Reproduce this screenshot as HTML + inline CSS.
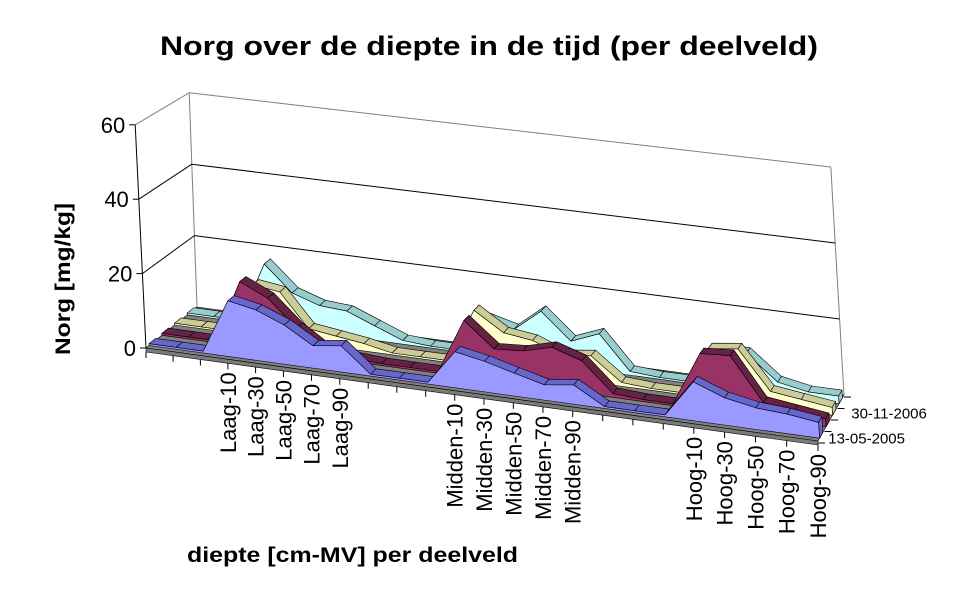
<!DOCTYPE html>
<html><head><meta charset="utf-8"><style>
html,body{margin:0;padding:0;background:#fff;}
svg{display:block;font-family:"Liberation Sans",Arial,sans-serif;}
</style></head><body>
<svg id="chart" width="977" height="600" viewBox="0 0 977 600" xmlns="http://www.w3.org/2000/svg">
<rect x="0" y="0" width="977" height="600" fill="#fff"/>
<text x="489" y="55" text-anchor="middle" font-size="27" font-weight="bold" textLength="658" lengthAdjust="spacingAndGlyphs">Norg over de diepte in de tijd (per deelveld)</text>
<text transform="translate(70,279) rotate(-90)" text-anchor="middle" font-size="21" font-weight="bold" textLength="152" lengthAdjust="spacingAndGlyphs">Norg [mg/kg]</text>
<text x="187" y="562" font-size="21" font-weight="bold" textLength="331" lengthAdjust="spacingAndGlyphs">diepte [cm-MV] per deelveld</text>
<g id="plot"></g>
</svg>
<script>
const categories = ["","","","Laag-10","Laag-30","Laag-50","Laag-70","Laag-90","","","","Midden-10","Midden-30","Midden-50","Midden-70","Midden-90","","","","Hoog-10","Hoog-30","Hoog-50","Hoog-70","Hoog-90"];
const seriesNames = ["13-05-2005","s2","30-11-2006","s4"];
const series1 = [0.5,0.5,0.5,15,13.5,10.5,6,7,0.5,0.5,0.5,9.5,8,6,4,5,0.5,0.5,0.5,10,7,5.5,5,4];
const series2 = [0.5,0.5,0.5,17.5,14,7,2,1,0.5,0.5,0.5,15,8.5,9,11,8.5,1,0.5,0.5,14.5,15,4,3,2];
const series3 = [0.5,0.5,0.5,14,13,4,3,2,0.5,0.5,0.5,15,10,9,6,7,1,0.5,0.5,13,14,4,3,2];
const series4 = [0.5,0.5,0.5,17,10,7.5,7,4,1,0.5,0.5,10,8,14,7,10,1,0.5,0.5,10,10,3.5,2,2];
const yTicks = [0,20,40,60];
const seriesLabels = ["13-05-2005","30-11-2006"];

const NS="http://www.w3.org/2000/svg";
const g=document.getElementById('plot');
const FL=[146,348],FR=[818,441],BL=[197,307],BR=[844,395];
const H={fl:3.72,fr:3.98,bl:3.57,br:3.8};
const L={fl:0.18,fr:0.27,bl:0.13,br:0.22};
const N=categories.length;
function tOf(k){return (27*k+0.096*k*k)/(27*(N-1)+0.096*(N-1)*(N-1));}
function lerp(a,b,t){return a+(b-a)*t;}
function P(k,v,d){
  const t=tOf(k);
  const fx=lerp(FL[0],FR[0],t),fy=lerp(FL[1],FR[1],t);
  const bx=lerp(BL[0],BR[0],t),by=lerp(BL[1],BR[1],t);
  const x=lerp(fx,bx,d),y=lerp(fy,by,d);
  const h=lerp(lerp(H.fl,H.fr,t),lerp(H.bl,H.br,t),d);
  const l=lerp(lerp(L.fl,L.fr,t),lerp(L.bl,L.br,t),d);
  return [x-l*v,y-h*v];
}
function pts(a){return a.map(p=>p[0].toFixed(1)+','+p[1].toFixed(1)).join(' ');}
function poly(parent,arr,fill,stroke,sw){
  const e=document.createElementNS(NS,'polygon');
  e.setAttribute('points',pts(arr));e.setAttribute('fill',fill);
  e.setAttribute('stroke',stroke);e.setAttribute('stroke-width',sw);e.setAttribute('stroke-linejoin','round');
  parent.appendChild(e);return e;
}
function line(parent,a,b,stroke,sw){
  const e=document.createElementNS(NS,'line');
  e.setAttribute('x1',a[0]);e.setAttribute('y1',a[1]);e.setAttribute('x2',b[0]);e.setAttribute('y2',b[1]);
  e.setAttribute('stroke',stroke);e.setAttribute('stroke-width',sw);
  parent.appendChild(e);return e;
}
function text(parent,x,y,s,size,anchor){
  const e=document.createElementNS(NS,'text');
  e.setAttribute('x',x);e.setAttribute('y',y);e.setAttribute('font-size',size);
  if(anchor)e.setAttribute('text-anchor',anchor);
  e.textContent=s;parent.appendChild(e);return e;
}
const K=N-1;
// walls
let e;
e=line(g,P(0,60,1),P(K,60,1),'#808080',1);


e=line(g,P(0,0,1),P(0,60,1),'#808080',1);


e=line(g,P(K,0,1),P(K,60,1),'#808080',1);


e=line(g,P(0,60,0),P(0,60,1),'#808080',1);


yTicks.forEach(v=>{
  if(v>0&&v<60){
    const a=line(g,P(0,v,0),P(0,v,1),'#000',1);
    
    
    const b=line(g,P(0,v,1),P(K,v,1),'#000',1);
    
    
  }
  const p=P(0,v,0);
  const tk=line(g,[p[0]-6,p[1]],p,'#000',1);
  
  
  const tl=text(g,p[0]-10,p[1]+8,String(v),22,'end');
  
  
});
e=line(g,P(0,0,0),P(0,60,0),'#000',1);


// floor
e=poly(g,[P(0,0,0),P(K,0,0),P(K,0,1),P(0,0,1)],'#808080','#000',0.6);


const f0=P(0,0,0),f1=P(K,0,0);
e=poly(g,[f0,f1,[f1[0],f1[1]+4],[f0[0],f0[1]+4]],'#7a7a7a','#000',0.6);


// x ticks and labels
categories.forEach((c,k)=>{
  const p=P(k,0,0);
  const tk=line(g,[p[0],p[1]+4],[p[0],p[1]+10],'#000',1);
  
  
  if(c){
    const t=document.createElementNS(NS,'text');
    t.setAttribute('transform','translate('+(p[0]+8).toFixed(1)+','+(p[1]+13).toFixed(1)+') rotate(-90)');
    t.setAttribute('font-size','22');t.setAttribute('text-anchor','end');
    t.textContent=c;
    
    
    g.appendChild(t);
  }
});
// depth ticks
for(let i=0;i<=4;i++){
  const p=P(K,0,i/4);
  const tk=line(g,[p[0],p[1]+2],[p[0]+7,p[1]+2],'#000',1);
  
  
}
const s0=P(K,0,0.125),s2=P(K,0,0.625);
e=text(g,s0[0]+7,s0[1]+8,seriesLabels[0],15);


e=text(g,s2[0]+17,s2[1]+6,seriesLabels[1],15);


// series
const allSeries=[series1,series2,series3,series4];
const fills=['#9999FF','#993366','#FFFFCC','#CCFFFF'];
const tops=['#6666CC','#662244','#CCCC99','#99CCCC'];
for(let s=3;s>=0;s--){
  const vals=allSeries[s];
  const d0=s/4+0.06,d1=s/4+0.19;
  const grp=document.createElementNS(NS,'g');
  
  
  g.appendChild(grp);
  for(let k=0;k<K;k++){
    const q=poly(grp,[P(k,vals[k],d0),P(k+1,vals[k+1],d0),P(k+1,vals[k+1],d1),P(k,vals[k],d1)],tops[s],'#000',0.6);
    
    
  }
  const cap=poly(grp,[P(K,0,d0),P(K,vals[K],d0),P(K,vals[K],d1),P(K,0,d1)],tops[s],'#000',0.6);
  
  
  const front=[];
  for(let k=0;k<=K;k++)front.push(P(k,vals[k],d0));
  front.push(P(K,0,d0));front.push(P(0,0,d0));
  const fa=poly(grp,front,fills[s],'#000',0.6);
  
  
}
</script>
</body></html>
